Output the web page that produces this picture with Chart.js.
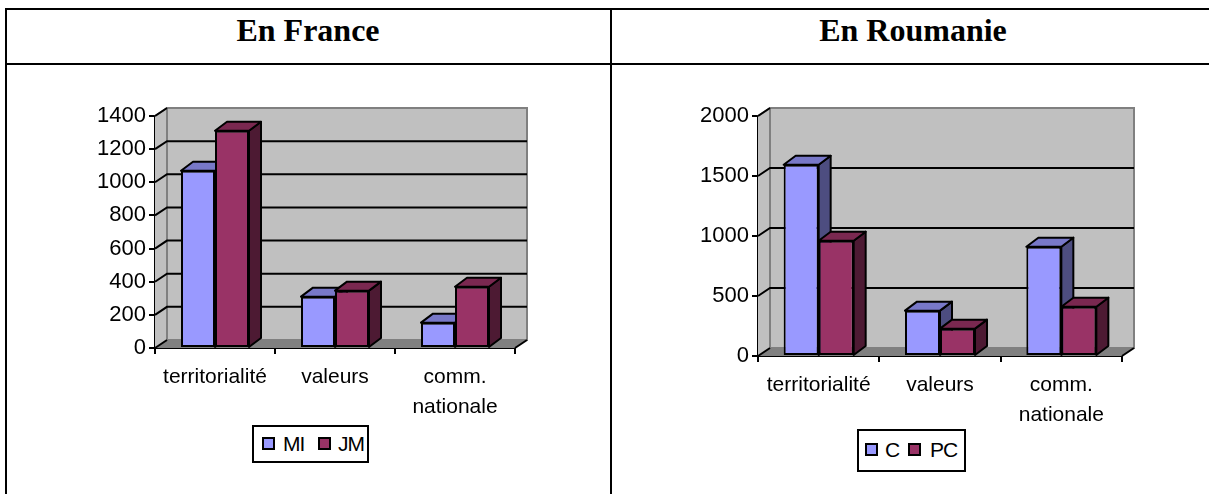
<!DOCTYPE html>
<html>
<head>
<meta charset="utf-8">
<title>En France / En Roumanie</title>
<script src="https://cdn.jsdelivr.net/npm/chart.js@4/dist/chart.umd.min.js"></script>
<style>
    html, body { margin: 0; padding: 0; background: #fff; }
    body { position: relative; width: 1209px; height: 494px; overflow: hidden; font-family: "Liberation Sans", Arial, sans-serif; }
    .rule { position: absolute; background: #000; }
    .head { position: absolute; top: 9px; height: 42px; text-align: center; font: bold 32px/42px "Liberation Serif", "Times New Roman", serif; color: #000; }
    canvas { position: absolute; }
    .legend { position: absolute; box-sizing: border-box; border: 2px solid #000; background: #fff; color: #000; font-size: 21px; white-space: nowrap; }
    .legend i { position: absolute; width: 9px; height: 9px; border: 2px solid #000; }
    .legend span { position: absolute; top: 0; letter-spacing: -1px; }
</style>
</head>
<body>
    <div class="rule" style="left:5px;top:8px;width:1204px;height:2px"></div>
    <div class="rule" style="left:5px;top:63px;width:1204px;height:2px"></div>
    <div class="rule" style="left:5px;top:8px;width:2px;height:486px"></div>
    <div class="rule" style="left:610px;top:8px;width:2px;height:486px"></div>

    <div class="head" style="left:7px;width:602px">En France</div>
    <div class="head" style="left:612px;width:602px">En Roumanie</div>

    <canvas id="chartFrance" style="left:7px;top:66px;width:601px;height:428px"></canvas>
    <canvas id="chartRoumanie" style="left:612px;top:66px;width:597px;height:428px"></canvas>

    <div class="legend" style="left:252px;top:425px;width:117px;height:38px;line-height:34px">
        <i style="left:8px;top:10px;background:#9999ff"></i><span id="legFr0" style="left:29px"></span>
        <i style="left:64px;top:10px;background:#993366"></i><span id="legFr1" style="left:84px"></span>
    </div>
    <div class="legend" style="left:857px;top:429px;width:109px;height:43px;line-height:38px">
        <i style="left:6px;top:12px;background:#9999ff"></i><span id="legRo0" style="left:26px"></span>
        <i style="left:49px;top:12px;background:#993366"></i><span id="legRo1" style="left:71px"></span>
    </div>

<script>
    var categories = ["territorialité", "valeurs", ["comm.", "nationale"]];

    var franceNames = ["MI", "JM"];
    var franceMI = [1070, 310, 153];
    var franceJM = [1311, 346, 370];

    var roumanieNames = ["C", "PC"];
    var roumanieC = [1594, 378, 911];
    var roumaniePC = [961, 228, 411];

    var FRONT = ["#9999ff", "#993366"];
    var TOP = ["#7878c8", "#7a2850"];
    var SIDE = ["#4d4d80", "#4d1a33"];

    // the walls, floor and bar sides that Chart.js has no 3D mode for
    var drawPoly = function (ctx, pts, fill, stroke) {
        ctx.beginPath();
        ctx.moveTo(pts[0][0], pts[0][1]);
        for (var i = 1; i < pts.length; i++) {
            ctx.lineTo(pts[i][0], pts[i][1]);
        }
        ctx.closePath();
        if (fill) {
            ctx.fillStyle = fill;
            ctx.fill();
        }
        if (stroke) {
            ctx.strokeStyle = stroke;
            ctx.lineWidth = 2;
            ctx.stroke();
        }
    };

    var box3d = {
        id: "box3d",
        beforeDatasetsDraw: function (chart, args, opts) {
            var ctx = chart.ctx;
            var a = chart.chartArea;
            var dx = opts.dx, dy = opts.dy;
            var yScale = chart.scales.y;
            ctx.save();
            // side wall and back wall
            drawPoly(ctx, [[a.left, a.top], [a.left + dx, a.top - dy], [a.left + dx, a.bottom - dy], [a.left, a.bottom]], "#c0c0c0");
            drawPoly(ctx, [[a.left + dx, a.top - dy], [a.right + dx, a.top - dy], [a.right + dx, a.bottom - dy], [a.left + dx, a.bottom - dy]], "#c0c0c0", "#808080");
            drawPoly(ctx, [[a.left, a.top], [a.left + dx, a.top - dy]], null, "#808080");
            // floor
            drawPoly(ctx, [[a.left, a.bottom], [a.left + dx, a.bottom - dy], [a.right + dx, a.bottom - dy], [a.right, a.bottom]], "#808080");
            // gridlines run across the back wall and down the side wall
            yScale.ticks.forEach(function (t) {
                var y = yScale.getPixelForValue(t.value);
                ctx.strokeStyle = "#000";
                ctx.lineWidth = 2;
                ctx.beginPath();
                ctx.moveTo(a.left, y);
                ctx.lineTo(a.left + dx, y - dy);
                if (t.value !== yScale.min && t.value !== yScale.max) {
                    ctx.lineTo(a.right + dx, y - dy);
                }
                ctx.stroke();
            });
            // right floor edge
            ctx.beginPath();
            ctx.moveTo(a.right, a.bottom);
            ctx.lineTo(a.right + dx, a.bottom - dy);
            ctx.stroke();

            // bar sides and tops, first series first so the second overlaps it
            ctx.lineJoin = "round";
            [0, 1].forEach(function (k) {
                chart.getDatasetMeta(k).data.forEach(function (bar) {
                    var l = bar.x - bar.width / 2;
                    var r = bar.x + bar.width / 2;
                    var t = bar.y;
                    var b = bar.base;
                    var d = opts.barDy;
                    drawPoly(ctx, [[r, t], [r + dx, t - d], [r + dx, b - d], [r, b]], SIDE[k], "#000");
                    drawPoly(ctx, [[l, t], [l + dx, t - d], [r + dx, t - d], [r, t]], TOP[k], "#000");
                });
            });
            ctx.restore();
        }
    };

    var makeChart = function (id, names, valuesA, valuesB, conf) {
        var canvas = document.getElementById(id);
        return new Chart(canvas.getContext("2d"), {
            type: "bar",
            data: {
                labels: categories,
                datasets: [
                    { label: names[0], data: valuesA, backgroundColor: FRONT[0] },
                    { label: names[1], data: valuesB, backgroundColor: FRONT[1] }
                ]
            },
            plugins: [box3d],
            options: {
                responsive: false,
                animation: false,
                devicePixelRatio: 1,
                layout: { padding: { left: 0, top: conf.top, right: conf.right, bottom: 0 } },
                datasets: {
                    bar: {
                        borderColor: "#000",
                        borderWidth: 2,
                        borderSkipped: false,
                        barPercentage: 1,
                        categoryPercentage: conf.catPct
                    }
                },
                plugins: {
                    legend: { display: false },
                    tooltip: { enabled: false },
                    box3d: { dx: 12, dy: 8, barDy: 9 }
                },
                scales: {
                    x: {
                        afterFit: function (s) { s.height = conf.xHeight; },
                        border: { color: "#000", width: 2 },
                        grid: { drawOnChartArea: false, color: "#000", lineWidth: 2, tickLength: 6, offset: true },
                        ticks: { color: "#000", font: { family: "Liberation Sans", size: 21, lineHeight: 1.4 }, maxRotation: 0, autoSkip: false, padding: 9 }
                    },
                    y: {
                        min: 0,
                        max: conf.max,
                        afterFit: function (s) { s.width = conf.yWidth; },
                        border: { color: "#000", width: 2 },
                        grid: { drawOnChartArea: false, color: "#000", lineWidth: 2, tickLength: 6 },
                        ticks: {
                            stepSize: conf.step,
                            color: "#000",
                            font: { family: "Liberation Sans", size: 22 },
                            padding: 3,
                            callback: function (v) { return String(v); }
                        }
                    }
                }
            }
        });
    };

    var setSize = function (id, w, h) {
        var c = document.getElementById(id);
        c.width = w;
        c.height = h;
    };

    setSize("chartFrance", 601, 428);
    setSize("chartRoumanie", 597, 428);

    makeChart("chartFrance", franceNames, franceMI, franceJM, {
        max: 1400, step: 200, top: 50, yWidth: 148, right: 601 - 508, xHeight: 428 - 282, catPct: 68 / 120
    });
    makeChart("chartRoumanie", roumanieNames, roumanieC, roumaniePC, {
        max: 2000, step: 500, top: 50, yWidth: 146, right: 597 - 510, xHeight: 428 - 290, catPct: 70 / 121.3
    });

    document.getElementById("legFr0").textContent = franceNames[0];
    document.getElementById("legFr1").textContent = franceNames[1];
    document.getElementById("legRo0").textContent = roumanieNames[0];
    document.getElementById("legRo1").textContent = roumanieNames[1];
</script>
</body>
</html>
